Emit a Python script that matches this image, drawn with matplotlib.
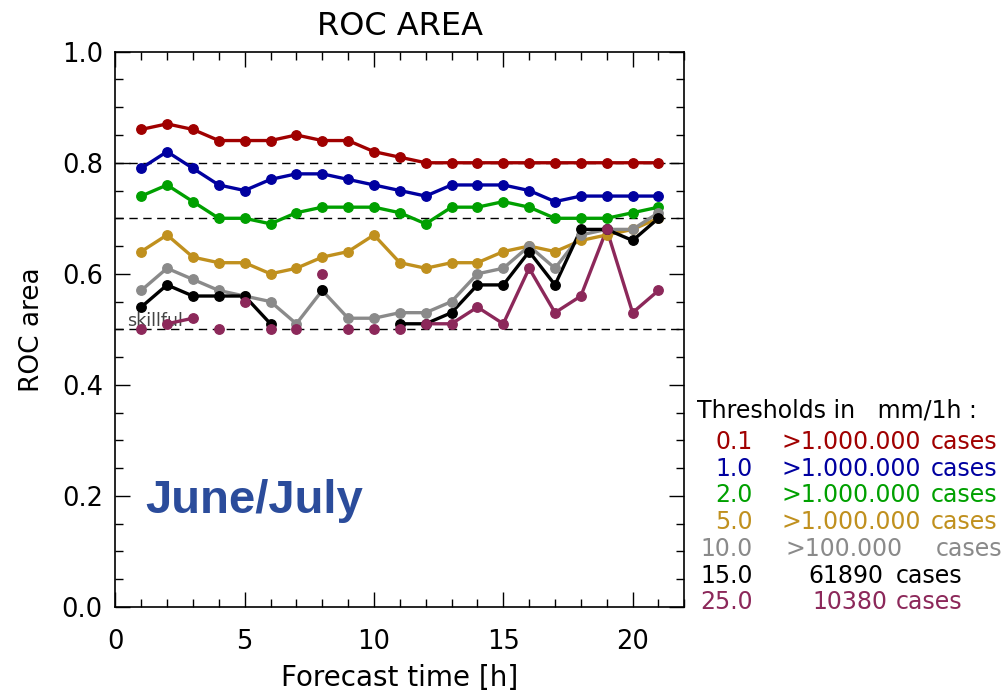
import numpy as np
import matplotlib
matplotlib.use("Agg")
import matplotlib.pyplot as plt
from matplotlib.ticker import MultipleLocator

hours = list(range(1, 22))
nan = np.nan

roc_01 = [0.86, 0.87, 0.86, 0.84, 0.84, 0.84, 0.85, 0.84, 0.84, 0.82, 0.81,
          0.80, 0.80, 0.80, 0.80, 0.80, 0.80, 0.80, 0.80, 0.80, 0.80]
roc_10 = [0.79, 0.82, 0.79, 0.76, 0.75, 0.77, 0.78, 0.78, 0.77, 0.76, 0.75,
          0.74, 0.76, 0.76, 0.76, 0.75, 0.73, 0.74, 0.74, 0.74, 0.74]
roc_20 = [0.74, 0.76, 0.73, 0.70, 0.70, 0.69, 0.71, 0.72, 0.72, 0.72, 0.71,
          0.69, 0.72, 0.72, 0.73, 0.72, 0.70, 0.70, 0.70, 0.71, 0.72]
roc_50 = [0.64, 0.67, 0.63, 0.62, 0.62, 0.60, 0.61, 0.63, 0.64, 0.67, 0.62,
          0.61, 0.62, 0.62, 0.64, 0.65, 0.64, 0.66, 0.67, 0.68, 0.70]
roc_100 = [0.57, 0.61, 0.59, 0.57, 0.56, 0.55, 0.51, 0.57, 0.52, 0.52, 0.53,
           0.53, 0.55, 0.60, 0.61, 0.65, 0.61, 0.67, 0.68, 0.68, 0.71]
roc_150 = [0.54, 0.58, 0.56, 0.56, 0.56, 0.51, nan, 0.57, nan, nan, 0.51,
           0.51, 0.53, 0.58, 0.58, 0.64, 0.58, 0.68, 0.68, 0.66, 0.70]
roc_250 = [0.50, 0.51, 0.52, 0.50, 0.55, 0.50, 0.50, 0.60, 0.50, 0.50, 0.50,
           0.51, 0.51, 0.54, 0.51, 0.61, 0.53, 0.56, 0.68, 0.53, 0.57]

thresholds = ["0.1", "1.0", "2.0", "5.0", "10.0", "15.0", "25.0"]
counts = [">1.000.000", ">1.000.000", ">1.000.000", ">1.000.000", ">100.000", "61890", "10380"]
series = [roc_01, roc_10, roc_20, roc_50, roc_100, roc_150, roc_250]
colors = ["#a00000", "#0000a0", "#00a000", "#c0901e", "#8a8a8a", "#000000", "#8c285a"]
ref_lines = [0.5, 0.7, 0.8]

fig = plt.figure(figsize=(10.08, 6.94), dpi=100)
ax = fig.add_axes([0.1144, 0.1254, 0.5645, 0.8001])

for y in ref_lines:
    ax.axhline(y, color="black", lw=1.0, ls=(0, (6, 4)), zorder=1)

for vals, c in zip(series, colors):
    v = np.array(vals, dtype=float)
    line_v = np.where(v > 0.5, v, nan)
    ax.plot(hours, line_v, color=c, lw=2.4, zorder=3, solid_capstyle="round")
    ax.plot(hours, v, ls="none", marker="o", ms=6.8, color=c, zorder=4)

ax.set_xlim(0, 22)
ax.set_ylim(0, 1.0)
ax.xaxis.set_major_locator(MultipleLocator(5))
ax.xaxis.set_minor_locator(MultipleLocator(1))
ax.yaxis.set_minor_locator(MultipleLocator(0.05))
ax.set_yticks([0, 0.2, 0.4, 0.6, 0.8, 1.0])
ax.set_yticklabels(["0.0", "0.2", "0.4", "0.6", "0.8", "1.0"])
ax.tick_params(which="both", direction="in", top=True, right=True, width=1.0)
ax.tick_params(which="major", length=11, labelsize=18.5, pad=9)
ax.tick_params(which="minor", length=6)
ax.tick_params(axis="x", which="major", pad=16)
for s in ax.spines.values():
    s.set_linewidth(1.2)

ax.set_title("ROC AREA", fontsize=23, pad=12)
ax.set_xlabel("Forecast time [h]", fontsize=20, labelpad=6)
ax.set_ylabel("ROC area", fontsize=19, labelpad=12)

ax.text(0.45, 0.506, "skillful", fontsize=12.5, color="#444444", zorder=2)
ax.text(1.15, 0.19, "June/July", fontsize=34, fontweight="bold",
        family="Liberation Sans", color="#2b4c9b", va="center")

fs = 17
fig.text(697 / 1008, 1 - 410 / 694, "Thresholds in   mm/1h :", fontsize=fs, va="center")
row_y = [442, 469, 495, 522, 549, 576, 602]
count_x = [782, 782, 782, 782, 786, 808, 812]
cases_x = [931, 931, 931, 931, 936, 896, 896]
for t, n, c, yy, cx, kx in zip(thresholds, counts, colors, row_y, count_x, cases_x):
    yf = 1 - yy / 694
    fig.text(753 / 1008, yf, t, fontsize=fs, color=c, ha="right", va="center")
    fig.text(cx / 1008, yf, n, fontsize=fs, color=c, ha="left", va="center")
    fig.text(kx / 1008, yf, "cases", fontsize=fs, color=c, ha="left", va="center")

fig.savefig("out.png", dpi=100)
